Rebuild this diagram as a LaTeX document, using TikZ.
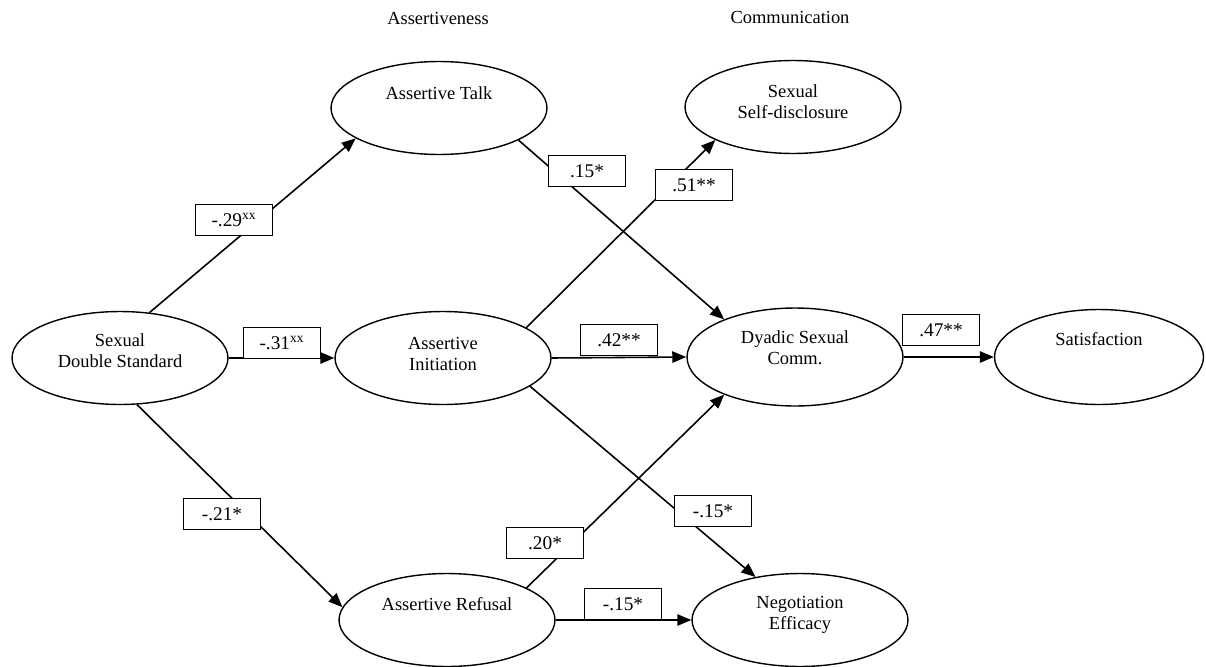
\documentclass[tikz,border=0pt]{standalone}
\usepackage{fontspec}
\setmainfont{Liberation Serif}
\usetikzlibrary{shapes.geometric,arrows.meta}

\tikzset{
    latent/.style = {draw, ellipse, line width=0.8pt, inner sep=0pt,
                     minimum width=4.32cm, minimum height=1.86cm},
    coef/.style   = {draw, fill=white, line width=0.8pt, inner sep=1pt,
                     minimum width=1.55cm, minimum height=0.62cm,
                     font=\fontsize{11}{13}\selectfont},
    effect/.style = {->, line width=0.9pt}
}

\begin{document}
\begin{tikzpicture}[x=0.02cm, y=-0.02cm, >={Triangle[length=8pt,width=6.5pt]},
                    font=\fontsize{10.5}{12}\selectfont]
            \useasboundingbox (0,0) rectangle (1206,666);

            \node (hassert) at (438,18) {Assertiveness};
            \node (hcomm)   at (790,17) {Communication};

            % latent variables
            \node[latent, label={[align=center,yshift=0.14cm]center:Sexual\\Double Standard}] (sds) at (120,358) {};
            \node[latent, label={[yshift=0.3cm]center:Assertive Talk}] (talk) at (439,108) {};
            \node[latent, label={[align=center,yshift=0.08cm]center:Assertive\\Initiation}] (init) at (443,358) {};
            \node[latent, label={[yshift=0.32cm]center:Assertive Refusal}] (ref) at (447,620) {};
            \node[latent, label={[align=center,yshift=0.1cm]center:Sexual\\Self-disclosure}] (disc) at (793,107) {};
            \node[latent, minimum height=1.96cm, label={[align=center,yshift=0.18cm]center:Dyadic Sexual\\Comm.}] (dyad) at (795,357) {};
            \node[latent, minimum width=4.18cm, minimum height=1.9cm, label={[yshift=0.36cm]center:Satisfaction}] (sat) at (1099,357) {};
            \node[latent, label={[align=center,yshift=0.1cm]center:Negotiation\\Efficacy}] (neg) at (800,620) {};

            % paths
            \draw[effect] (sds.57)   -- (talk.200);
            \draw[effect] (sds.east) -- (init.west);
            \draw[effect] (sds.-70)  -- (ref.173);
            \draw[effect] (talk.-22) -- (dyad.152);
            \draw[effect] (init.20)  -- (disc.203);
            \draw[effect] (init.east) -- (dyad.west);
            \draw[effect] (init.-18) -- (neg.136);
            \draw[effect] (ref.22)   -- (dyad.208);
            \draw[effect] (ref.east) -- (neg.west);
            \draw[effect] (dyad.east) -- (sat.west);

            % coefficients
            \node[coef] (c29)  at (234,220) {-.29\textsuperscript{xx}};
            \node[coef] (c31)  at (282,343) {-.31\textsuperscript{xx}};
            \node[coef] (c21)  at (222,514) {-.21*};
            \node[coef] (c15t) at (587,171) {.15*};
            \node[coef] (c51)  at (694,185) {.51**};
            \node[coef] (c42)  at (619,340) {.42**};
            \node[coef] (c15i) at (713,511) {-.15*};
            \node[coef] (c20)  at (545,543) {.20*};
            \node[coef] (c15r) at (623,604) {-.15*};
            \node[coef] (c47)  at (941,330) {.47**};
        \end{tikzpicture}
\end{document}
